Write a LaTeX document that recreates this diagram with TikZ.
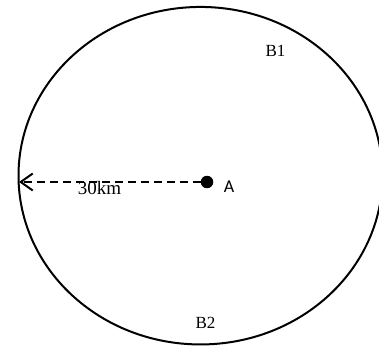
\documentclass[tikz,border=0pt]{standalone}
\usepackage{fontspec}
\setmainfont{Liberation Serif}
\newfontfamily\labelsans{Carlito}
\usetikzlibrary{arrows.meta,shapes.geometric}
\tikzset{
  region/.style={draw=black, line width=2pt},
  radius line/.style={draw=black, line width=2.5pt, dash pattern=on 8pt off 5pt, -{Straight Barb[length=12pt,width=17pt,line width=2pt]}},
  lbl/.style={inner sep=0pt, font=\fontsize{17}{20}\selectfont},
}
\begin{document}
\begin{tikzpicture}[x=1pt,y=-1pt]
\useasboundingbox (0,0) rectangle (379,347);
\node[region, ellipse, minimum width=364pt, minimum height=337.5pt, inner sep=0pt] (circ) at (200.5,175.7) {};
\node[lbl] (b1) at (275.5,50.5) {B1};
\node[lbl] (b2) at (205.5,322.5) {B2};
\node[lbl, font=\fontsize{19}{22}\selectfont] (km) at (99.5,188) {30km};
\node[circle, fill=black, minimum size=12.5pt, inner sep=0pt] (a) at (207,182) {};
\node[lbl, font=\labelsans\fontsize{18}{21}\selectfont] (al) at (229,187) {A};
\coordinate (edge) at (19,182);
\draw[radius line] (a.west) -- (edge);
\end{tikzpicture}
\end{document}
